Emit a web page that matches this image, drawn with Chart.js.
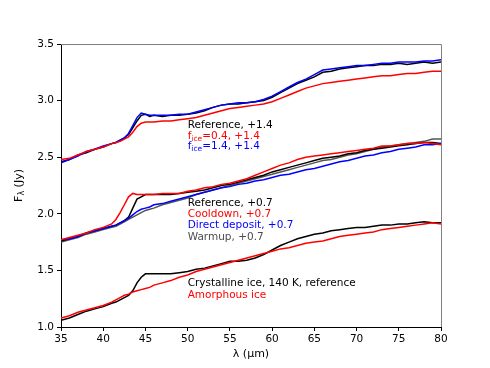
<!DOCTYPE html>
<html>
<head>
<meta charset="utf-8">
<script src="https://cdn.jsdelivr.net/npm/chart.js@4"></script>
<style>
  html, body { margin:0; padding:0; background:#fff; }
  #wrap { width:490px; height:368px; }
</style>
</head>
<body>
<div id="wrap"><canvas id="c" width="490" height="368"></canvas></div>
<script>
/* wavelength grid (µm) */
const lam = [35,36,37,38,39,40,41,41.5,42,42.5,43,43.5,44,44.5,45,45.5,46,47,48,49,50,51,52,53,54,55,56,57,58,59,60,61,62,63,64,65,66,67,68,69,70,71,72,73,74,75,76,77,78,79,80];

/* top group, offset +1.4 */
const refTop = [2.46,2.48,2.52,2.54,2.57,2.59,2.62,2.63,2.65,2.67,2.70,2.76,2.82,2.87,2.88,2.86,2.87,2.86,2.87,2.87,2.88,2.89,2.91,2.94,2.96,2.97,2.97,2.98,2.99,3.00,3.03,3.07,3.11,3.15,3.18,3.21,3.25,3.26,3.28,3.29,3.30,3.31,3.31,3.32,3.32,3.33,3.32,3.33,3.34,3.33,3.34];
const fice04 = [2.48,2.49,2.52,2.55,2.57,2.59,2.62,2.63,2.64,2.66,2.68,2.72,2.77,2.80,2.81,2.81,2.81,2.82,2.82,2.83,2.84,2.85,2.87,2.89,2.91,2.93,2.94,2.95,2.96,2.97,2.99,3.02,3.05,3.08,3.11,3.13,3.15,3.16,3.17,3.18,3.19,3.20,3.21,3.22,3.22,3.23,3.24,3.24,3.25,3.26,3.26];
const fice14 = [2.45,2.48,2.51,2.55,2.57,2.60,2.62,2.63,2.65,2.67,2.71,2.78,2.85,2.89,2.88,2.87,2.87,2.87,2.87,2.88,2.88,2.90,2.92,2.94,2.96,2.97,2.98,2.98,2.99,3.01,3.04,3.08,3.12,3.16,3.19,3.23,3.27,3.28,3.29,3.30,3.31,3.31,3.32,3.33,3.33,3.34,3.34,3.34,3.35,3.35,3.36];

/* middle group, offset +0.7 */
const refMid = [1.76,1.78,1.80,1.83,1.85,1.87,1.89,1.90,1.92,1.94,1.97,2.05,2.13,2.15,2.17,2.17,2.17,2.17,2.17,2.18,2.19,2.20,2.21,2.23,2.25,2.26,2.28,2.30,2.32,2.34,2.37,2.39,2.41,2.43,2.45,2.47,2.49,2.50,2.51,2.53,2.54,2.56,2.57,2.58,2.59,2.60,2.61,2.62,2.63,2.63,2.62];
const cooldown = [1.77,1.79,1.81,1.83,1.86,1.88,1.91,1.95,2.01,2.08,2.15,2.18,2.17,2.17,2.17,2.17,2.17,2.18,2.18,2.18,2.20,2.21,2.23,2.24,2.26,2.27,2.29,2.31,2.34,2.37,2.40,2.43,2.45,2.48,2.50,2.51,2.52,2.53,2.54,2.55,2.56,2.57,2.58,2.60,2.60,2.61,2.62,2.62,2.63,2.62,2.61];
const direct = [1.77,1.78,1.80,1.83,1.85,1.87,1.89,1.90,1.92,1.94,1.96,1.99,2.02,2.04,2.05,2.06,2.08,2.09,2.11,2.13,2.15,2.17,2.19,2.21,2.23,2.24,2.26,2.27,2.29,2.30,2.32,2.34,2.35,2.37,2.39,2.40,2.42,2.44,2.46,2.47,2.49,2.51,2.52,2.54,2.55,2.57,2.58,2.59,2.61,2.61,2.62];
const warmup = [1.75,1.77,1.79,1.82,1.84,1.86,1.88,1.89,1.91,1.93,1.95,1.97,1.99,2.01,2.03,2.04,2.05,2.08,2.10,2.12,2.14,2.17,2.19,2.21,2.23,2.25,2.27,2.29,2.31,2.33,2.35,2.37,2.39,2.41,2.43,2.45,2.47,2.48,2.50,2.52,2.53,2.55,2.57,2.59,2.60,2.61,2.62,2.63,2.64,2.66,2.66];

/* bottom group, no offset */
const crystal = [1.06,1.08,1.11,1.14,1.16,1.18,1.21,1.22,1.24,1.26,1.28,1.32,1.39,1.44,1.47,1.47,1.47,1.47,1.47,1.48,1.49,1.51,1.52,1.54,1.56,1.58,1.58,1.59,1.61,1.64,1.68,1.72,1.75,1.78,1.80,1.82,1.83,1.85,1.86,1.87,1.88,1.88,1.89,1.90,1.90,1.91,1.91,1.92,1.93,1.92,1.92];
const amorph = [1.08,1.10,1.13,1.15,1.17,1.19,1.22,1.24,1.26,1.28,1.29,1.31,1.32,1.33,1.34,1.35,1.37,1.39,1.41,1.44,1.46,1.49,1.51,1.53,1.55,1.57,1.59,1.61,1.63,1.65,1.67,1.69,1.70,1.72,1.74,1.75,1.76,1.78,1.80,1.81,1.82,1.83,1.84,1.86,1.87,1.88,1.89,1.90,1.91,1.92,1.91];

const xTicks = [35,40,45,50,55,60,65,70,75,80];
const yTicks = [1.0,1.5,2.0,2.5,3.0,3.5];

/* annotation labels: [x, y, text, sub, rest, colour] */
const notes = [
  [50, 2.785, 'Reference, +1.4', '', '', '#000'],
  [50, 2.688, 'f', 'ice', '=0.4, +1.4', '#ff0000'],
  [50, 2.595, 'f', 'ice', '=1.4, +1.4', '#0000ff'],
  [50, 2.090, 'Reference, +0.7', '', '', '#000'],
  [50, 1.993, 'Cooldown, +0.7', '', '', '#ff0000'],
  [50, 1.896, 'Direct deposit, +0.7', '', '', '#0000ff'],
  [50, 1.796, 'Warmup, +0.7', '', '', '#4d4d4d'],
  [50, 1.385, 'Crystalline ice, 140 K, reference', '', '', '#000'],
  [50, 1.282, 'Amorphous ice', '', '', '#ff0000']
];

const FONT = 'DejaVu Sans';
const pts = ys => lam.map((x,i) => ({x, y: ys[i]}));
const line = (ys, color) => ({ data: pts(ys), borderColor: color, borderWidth: 1.5, pointRadius: 0, tension: 0, fill: false });

const extras = {
  id: 'extras',
  afterDraw(chart) {
    const {ctx, chartArea: a, scales: {x, y}} = chart;
    ctx.save();
    // frame: top and right spines
    ctx.strokeStyle = '#808080'; ctx.lineWidth = 1;
    ctx.beginPath();
    ctx.moveTo(a.left, a.top + 0.5); ctx.lineTo(a.right + 0.5, a.top + 0.5); ctx.lineTo(a.right + 0.5, a.bottom);
    ctx.stroke();
    // annotations
    ctx.textBaseline = 'middle'; ctx.textAlign = 'left';
    notes.forEach(([nx, ny, t, sub, rest, col]) => {
      let px = x.getPixelForValue(nx), py = y.getPixelForValue(ny);
      ctx.fillStyle = col;
      ctx.font = `10.5px "${FONT}"`;
      ctx.fillText(t, px, py);
      if (sub) {
        px += ctx.measureText(t).width;
        ctx.font = `7.5px "${FONT}"`;
        ctx.fillText(sub, px, py + 3);
        px += ctx.measureText(sub).width;
        ctx.font = `10.5px "${FONT}"`;
        ctx.fillText(rest, px, py);
      }
    });
    // axis titles
    ctx.fillStyle = '#000';
    ctx.font = `11px "${FONT}"`;
    ctx.textAlign = 'center';
    ctx.fillText('λ (µm)', (a.left + a.right) / 2, 354);
    ctx.translate(19, (a.top + a.bottom) / 2);
    ctx.rotate(-Math.PI / 2);
    const w1 = ctx.measureText('F').width;
    ctx.font = `8px "${FONT}"`;
    const w2 = ctx.measureText('λ').width;
    ctx.font = `11px "${FONT}"`;
    const w3 = ctx.measureText(' (Jy)').width;
    let sx = -(w1 + w2 + w3) / 2;
    ctx.textAlign = 'left';
    ctx.fillText('F', sx, 0); sx += w1;
    ctx.font = `8px "${FONT}"`;
    ctx.fillText('λ', sx, 3); sx += w2;
    ctx.font = `11px "${FONT}"`;
    ctx.fillText(' (Jy)', sx, 0);
    ctx.restore();
  }
};

new Chart(document.getElementById('c'), {
  type: 'line',
  data: { datasets: [
    line(fice04, '#ff0000'), line(fice14, '#0000ff'), line(refTop, '#000000'),
    line(cooldown, '#ff0000'), line(direct, '#0000ff'), line(refMid, '#000000'), line(warmup, '#555555'),
    line(amorph, '#ff0000'), line(crystal, '#000000')
  ]},
  options: {
    responsive: false, animation: false,
    layout: { padding: { top: 44, right: 49, left: 0, bottom: 0 } },
    plugins: { legend: { display: false }, tooltip: { enabled: false } },
    scales: {
      x: {
        type: 'linear', min: 35, max: 80,
        afterFit: s => { s.height = 41; },
        afterBuildTicks: s => { s.ticks = xTicks.map(v => ({value: v})); },
        grid: { drawOnChartArea: false, tickLength: 4, tickColor: '#000' },
        border: { color: '#000', width: 1 },
        ticks: { color: '#000', font: { family: FONT, size: 10.5 }, padding: 2, maxRotation: 0 }
      },
      y: {
        min: 1.0, max: 3.5,
        afterFit: s => { s.width = 61; },
        afterBuildTicks: s => { s.ticks = yTicks.map(v => ({value: v})); },
        grid: { drawOnChartArea: false, tickLength: 4, tickColor: '#000' },
        border: { color: '#000', width: 1 },
        ticks: { color: '#000', font: { family: FONT, size: 10.5 }, padding: 3, callback: v => v.toFixed(1) }
      }
    }
  },
  plugins: [extras]
});
</script>
</body>
</html>
